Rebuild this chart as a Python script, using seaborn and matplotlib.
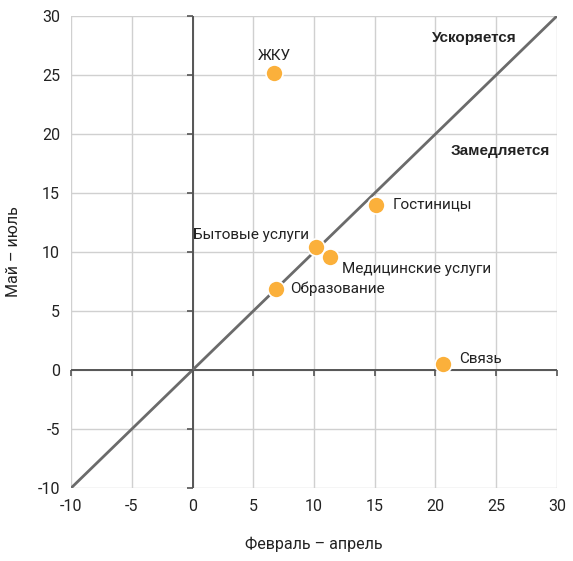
import numpy as np
import pandas as pd
import seaborn as sns
import matplotlib.pyplot as plt

# Данные
sectors = ['ЖКУ', 'Гостиницы', 'Бытовые услуги', 'Медицинские услуги', 'Образование', 'Связь']
feb_apr = [6.7, 15.1, 10.2, 11.3, 6.9, 20.6]
may_jul = [25.2, 14.0, 10.4, 9.6, 6.9, 0.5]
# смещения подписей (пт) и выравнивание
offsets = [(0, 12), (12, 0), (-5, 9), (9, -9), (10, 0), (12, 4)]
aligns = ['center', 'left', 'right', 'left', 'left', 'left']
ticks = [-10, -5, 0, 5, 10, 15, 20, 25, 30]

df = pd.DataFrame({'Сектор': sectors, 'x': feb_apr, 'y': may_jul})

sns.set_style("white")
plt.rcParams['font.family'] = ['Roboto', 'DejaVu Sans']
plt.rcParams['axes.unicode_minus'] = False

fig = plt.figure(figsize=(5.73, 5.61), dpi=100)
ax = fig.add_axes([0.124, 0.130, 0.848, 0.8415])
ax.set_xlim(-10, 30)
ax.set_ylim(-10, 30)
ax.set_xticks(ticks)
ax.set_yticks(ticks)
ax.grid(True, color='#d0d0d0', lw=1)
ax.set_axisbelow(True)
for s in ax.spines.values():
    s.set_visible(False)
ax.tick_params(length=0, labelsize=11.5, colors='#222222', pad=8)

# оси через ноль и линия y = x
ax.axhline(0, color='#555555', lw=1.4, zorder=1.5)
ax.axvline(0, color='#555555', lw=1.4, zorder=1.5)
ax.plot(ticks, ticks, color='#6b6b6b', lw=2, zorder=2)

sns.scatterplot(data=df, x='x', y='y', ax=ax, s=150, color='#FBB03B',
                edgecolor='white', linewidth=1.2, zorder=5, legend=False)
ax.set_xlabel('Февраль – апрель', fontsize=11.5, labelpad=16, color='#222222')
ax.set_ylabel('Май – июль', fontsize=11.5, labelpad=12, color='#222222')

for name, x, y, off, ha in zip(sectors, feb_apr, may_jul, offsets, aligns):
    ax.annotate(name, (x, y), xytext=off, textcoords='offset points',
                ha=ha, va='center', fontsize=11, color='#222222', zorder=6)

ax.text(23.2, 28.1, 'Ускоряется', fontsize=11, fontweight='bold',
        family=['Liberation Sans', 'DejaVu Sans'], ha='center', va='center', color='#222222')
ax.text(25.3, 18.6, 'Замедляется', fontsize=11, fontweight='bold',
        family=['Liberation Sans', 'DejaVu Sans'], ha='center', va='center', color='#222222')

# засечки на нулевых осях
ax0 = fig.add_axes(ax.get_position(), sharex=ax, sharey=ax)
ax0.patch.set_visible(False)
ax0.spines['left'].set_position(('data', 0))
ax0.spines['bottom'].set_position(('data', 0))
for s in ax0.spines.values():
    s.set_visible(False)
ax0.tick_params(direction='out', length=4, width=1.2, color='#555555',
                bottom=True, left=True, labelbottom=False, labelleft=False)

fig.savefig('out.png', dpi=100)
